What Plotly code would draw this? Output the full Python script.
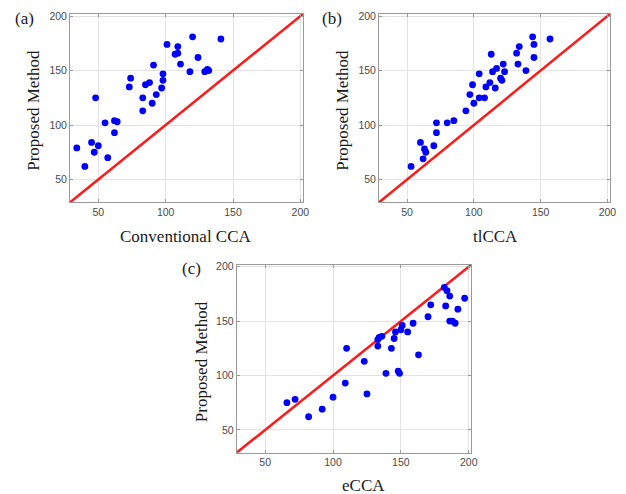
import plotly.graph_objects as go

# Proposed method vs conventional CCA (a)
a_x = [34, 40, 45, 47, 48, 50, 55, 57, 62, 62, 64, 73, 74, 83, 83, 85, 88, 90, 91, 93,
       97, 98, 98, 101, 107, 109, 109, 111, 118, 120, 124, 129, 131, 132, 141]
a_y = [79, 62, 84, 75, 125, 81, 102, 70, 104, 93, 103, 135, 143, 125, 113, 137, 139, 120, 155, 128,
       134, 141, 147, 174, 165, 166, 172, 156, 149, 181, 162, 149, 151, 150, 179]

# tlCCA (b)
b_x = [53, 60, 62, 63, 64, 70, 72, 72, 80, 85, 94, 97, 99, 100, 104, 104, 108, 109, 112, 113,
       114, 116, 117, 120, 121, 122, 123, 132, 133, 134, 139, 144, 145, 145, 157]
b_y = [62, 84, 69, 78, 75, 81, 93, 102, 102, 104, 113, 128, 137, 120, 147, 125, 125, 135, 139, 165,
       149, 134, 152, 143, 141, 156, 149, 166, 156, 172, 150, 181, 162, 174, 179]

# eCCA (c)
c_x = [66, 72, 82, 92, 100, 109, 110, 123, 125, 133, 133, 134, 136, 139, 143, 145, 146, 148, 149, 150,
       151, 155, 159, 163, 170, 172, 182, 184, 183, 186, 186, 188, 190, 192, 197]
c_y = [75, 78, 62, 69, 80, 93, 125, 113, 83, 127, 133, 135, 136, 102, 125, 134, 140, 104, 102, 142,
       146, 140, 148, 119, 154, 165, 181, 178, 164, 173, 150, 150, 148, 161, 171]

x_titles = ["Conventional CCA", "tlCCA", "eCCA"]
y_title = "Proposed Method"
panel_labels = ["(a)", "(b)", "(c)"]
ticks = [50, 100, 150, 200]
axis_range = [29, 202]
identity = [0, 250]

W, H = 626, 494
# pixel boxes of the three axes: (left, right, top, bottom)
boxes = [(70.7, 306, 10, 200), (382.7, 616, 10, 200), (239, 476, 262.7, 452.3)]

fig = go.Figure()
series = [(a_x, a_y), (b_x, b_y), (c_x, c_y)]
for i, (xs, ys) in enumerate(series):
    n = "" if i == 0 else str(i + 1)
    fig.add_trace(go.Scatter(x=identity, y=identity, mode="lines",
                             line=dict(color="#ff1a1a", width=2.5),
                             xaxis="x" + n, yaxis="y" + n, showlegend=False, hoverinfo="skip"))
    fig.add_trace(go.Scatter(x=xs, y=ys, mode="markers",
                             marker=dict(color="#0000ff", size=6.8),
                             xaxis="x" + n, yaxis="y" + n, showlegend=False))

axis_common = dict(range=axis_range, tickvals=ticks, showgrid=True, gridcolor="#e3e3e3",
                   gridwidth=1, showline=True, linecolor="#9a9a9a", linewidth=1, mirror="allticks",
                   ticks="inside", ticklen=3, tickcolor="#9a9a9a", zeroline=False,
                   tickfont=dict(family="Liberation Sans, Arial", size=10.5, color="#4a4a4a"))

layout = dict(width=W, height=H, margin=dict(l=0, r=0, t=0, b=0),
              paper_bgcolor="white", plot_bgcolor="white", annotations=[])

title_font = dict(family="Liberation Serif, Times New Roman", size=17, color="#1a1a1a")
title_pos = [
    ((188, 234), (33, 107)),
    ((500, 234), (345, 107)),
    ((367, 485), (203, 361)),
]
label_pos = [(25, 15), (335, 15), (193, 267)]

for i, (l, r, t, b) in enumerate(boxes):
    n = "" if i == 0 else str(i + 1)
    xd = [l / W, r / W]
    yd = [1 - b / H, 1 - t / H]
    layout["xaxis" + n] = dict(axis_common, domain=xd, anchor="y" + n)
    layout["yaxis" + n] = dict(axis_common, domain=yd, anchor="x" + n)
    (xtx, xty), (ytx, yty) = title_pos[i]
    layout["annotations"].append(dict(text=x_titles[i], x=xtx / W, y=1 - xty / H, xref="paper",
                                      yref="paper", showarrow=False, font=title_font,
                                      xanchor="center", yanchor="middle"))
    layout["annotations"].append(dict(text=y_title, x=ytx / W, y=1 - yty / H, xref="paper",
                                      yref="paper", showarrow=False, font=title_font, textangle=-90,
                                      xanchor="center", yanchor="middle"))
    lx, ly = label_pos[i]
    layout["annotations"].append(dict(text=panel_labels[i], x=lx / W, y=1 - ly / H, xref="paper",
                                      yref="paper", showarrow=False, font=title_font,
                                      xanchor="center", yanchor="middle"))

fig.update_layout(**layout)
fig.write_html("out.html")
